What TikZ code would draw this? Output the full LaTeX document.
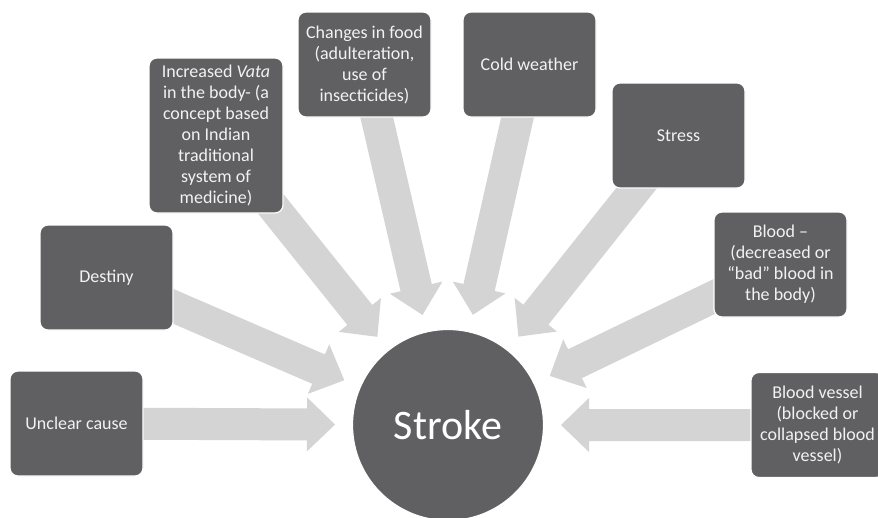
\documentclass[tikz,border=0pt]{standalone}
\usepackage{fontspec}
\setmainfont{Carlito}
\usetikzlibrary{calc,backgrounds}
\definecolor{boxgray}{RGB}{96,96,99}
\definecolor{arrgray}{RGB}{212,212,212}
\definecolor{txt}{RGB}{242,242,242}
\tikzset{
  causebox/.style={fill=boxgray, draw=white, line width=1.2pt, rounded corners=8pt,
    minimum width=133pt, minimum height=105pt, text=txt, align=center, inner sep=0pt,
    font=\fontsize{18}{21}\selectfont},
  strokecirc/.style={circle, fill=boxgray, draw=white, line width=1.2pt,
    minimum size=191pt, inner sep=0pt, text=white, font=\fontsize{42}{48}\selectfont},
  blockarrow/.style={fill=arrgray, draw=none}
}
\newcommand{\causearrow}[1]{%
  \coordinate (tip) at ($(stroke.center)!113pt!(#1.center)$);
  \coordinate (hb) at ($(tip)!28pt!(#1.center)$);
  \fill[blockarrow] ($(#1.center)!16pt!90:(tip)$) -- ($(hb)!16pt!90:(tip)$)
    -- ($(hb)!27pt!90:(tip)$) -- (tip) -- ($(hb)!27pt!-90:(tip)$)
    -- ($(hb)!16pt!-90:(tip)$) -- ($(#1.center)!16pt!-90:(tip)$) -- cycle;
}
\begin{document}
\begin{tikzpicture}[x=1pt,y=-1pt]
\useasboundingbox (0,0) rectangle (878,517);
\clip (0,0) rectangle (878,517);

\node[strokecirc] (stroke) at (448,425) {Stroke};

\node[causebox] (unclear) at (76.5,423.5) {Unclear cause};
\node[causebox] (destiny) at (106.5,277.5) {Destiny};
\node[causebox, minimum width=134pt, minimum height=155pt] (vata) at (216,135.5)
  {Increased \textit{Vata}\\in the body- (a\\concept based\\on Indian\\traditional\\system of\\medicine)};
\node[causebox] (food) at (364.5,64.5) {Changes in food\\(adulteration,\\use of\\insecticides)};
\node[causebox] (cold) at (529.5,64.5) {Cold weather};
\node[causebox] (stress) at (678.5,135.5) {Stress};
\node[causebox] (blood) at (780.5,264.5) {Blood –\\(decreased or\\“bad” blood in\\the body)};
\node[causebox] (vessel) at (817.5,425) {Blood vessel\\(blocked or\\collapsed blood\\vessel)};

\begin{pgfonlayer}{background}
  \fill[white] (0,0) rectangle (878,517);
  \causearrow{unclear}
  \causearrow{destiny}
  \causearrow{vata}
  \causearrow{food}
  \causearrow{cold}
  \causearrow{stress}
  \causearrow{blood}
  \causearrow{vessel}
\end{pgfonlayer}
\end{tikzpicture}
\end{document}
